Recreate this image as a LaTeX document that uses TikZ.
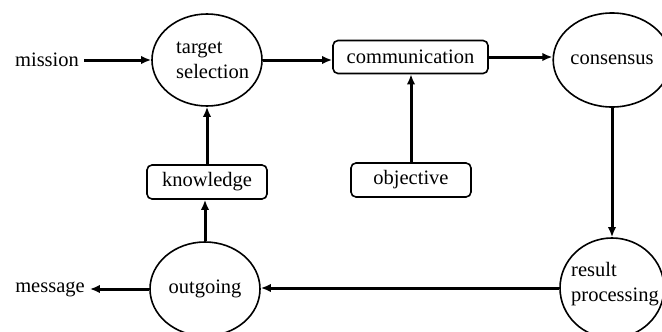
\documentclass[tikz,border=0pt]{standalone}
\usepackage{fontspec}
\setmainfont{Liberation Serif}
\usetikzlibrary{shapes.geometric,arrows.meta}
\begin{document}
\begin{tikzpicture}[x=1pt,y=-1pt,
  lbl/.style={font=\fontsize{20.5}{25}\selectfont, inner sep=0pt},
  ell/.style={ellipse, draw, line width=1.6pt, inner sep=0pt, font=\fontsize{20.5}{25}\selectfont},
  box/.style={draw, rounded corners=5pt, line width=1.6pt, inner sep=0pt, font=\fontsize{20.5}{25}\selectfont},
  arr/.style={line width=3pt, -{Latex[length=10pt,width=8.5pt]}}
]
\useasboundingbox (0,0) rectangle (662,332);
\clip (0,0) rectangle (662,332);
% ellipses
\node[ell, minimum width=110pt, minimum height=92pt] (ts) at (207,60) {};
\node[lbl, anchor=west, align=left] (tstxt) at (176,60) {target\\selection};
\node[ell, minimum width=104pt, minimum height=94pt] (cons) at (612,60) {consensus};
\node[ell, minimum width=104pt, minimum height=100pt] (rp) at (612,288) {};
\node[lbl, anchor=west, align=left] (rptxt) at (571,284) {result\\processing};
\node[ell, minimum width=110pt, minimum height=94pt] (out) at (205,289) {outgoing};
% boxes
\node[box, minimum width=155pt, minimum height=33pt] (comm) at (410.5,57) {communication};
\node[box, minimum width=120pt, minimum height=34pt] (kn) at (207,182) {knowledge};
\node[box, minimum width=120pt, minimum height=34pt] (obj) at (411,180) {objective};
% free labels
\node[lbl] (mission) at (47,60) {mission};
\node[lbl] (msg) at (50,289) {message};
% connectors
\draw[arr] ([xshift=5pt]mission.east) -- (ts.west);
\draw[arr] (ts.east) -- (ts.east -| comm.west);
\draw[arr] (comm.east) -- (comm.east -| cons.west);
\draw[arr] (cons.south) -- (rp.north);
\draw[arr] (rp.west) -- (rp.west -| out.east);
\draw[arr] (out.west) -- ([xshift=5pt]msg.east);
\draw[arr] (out.north) -- (out.north |- kn.south);
\draw[arr] (kn.north) -- (kn.north |- ts.south);
\draw[arr] (obj.north) -- (obj.north |- comm.south);
\end{tikzpicture}
\end{document}
